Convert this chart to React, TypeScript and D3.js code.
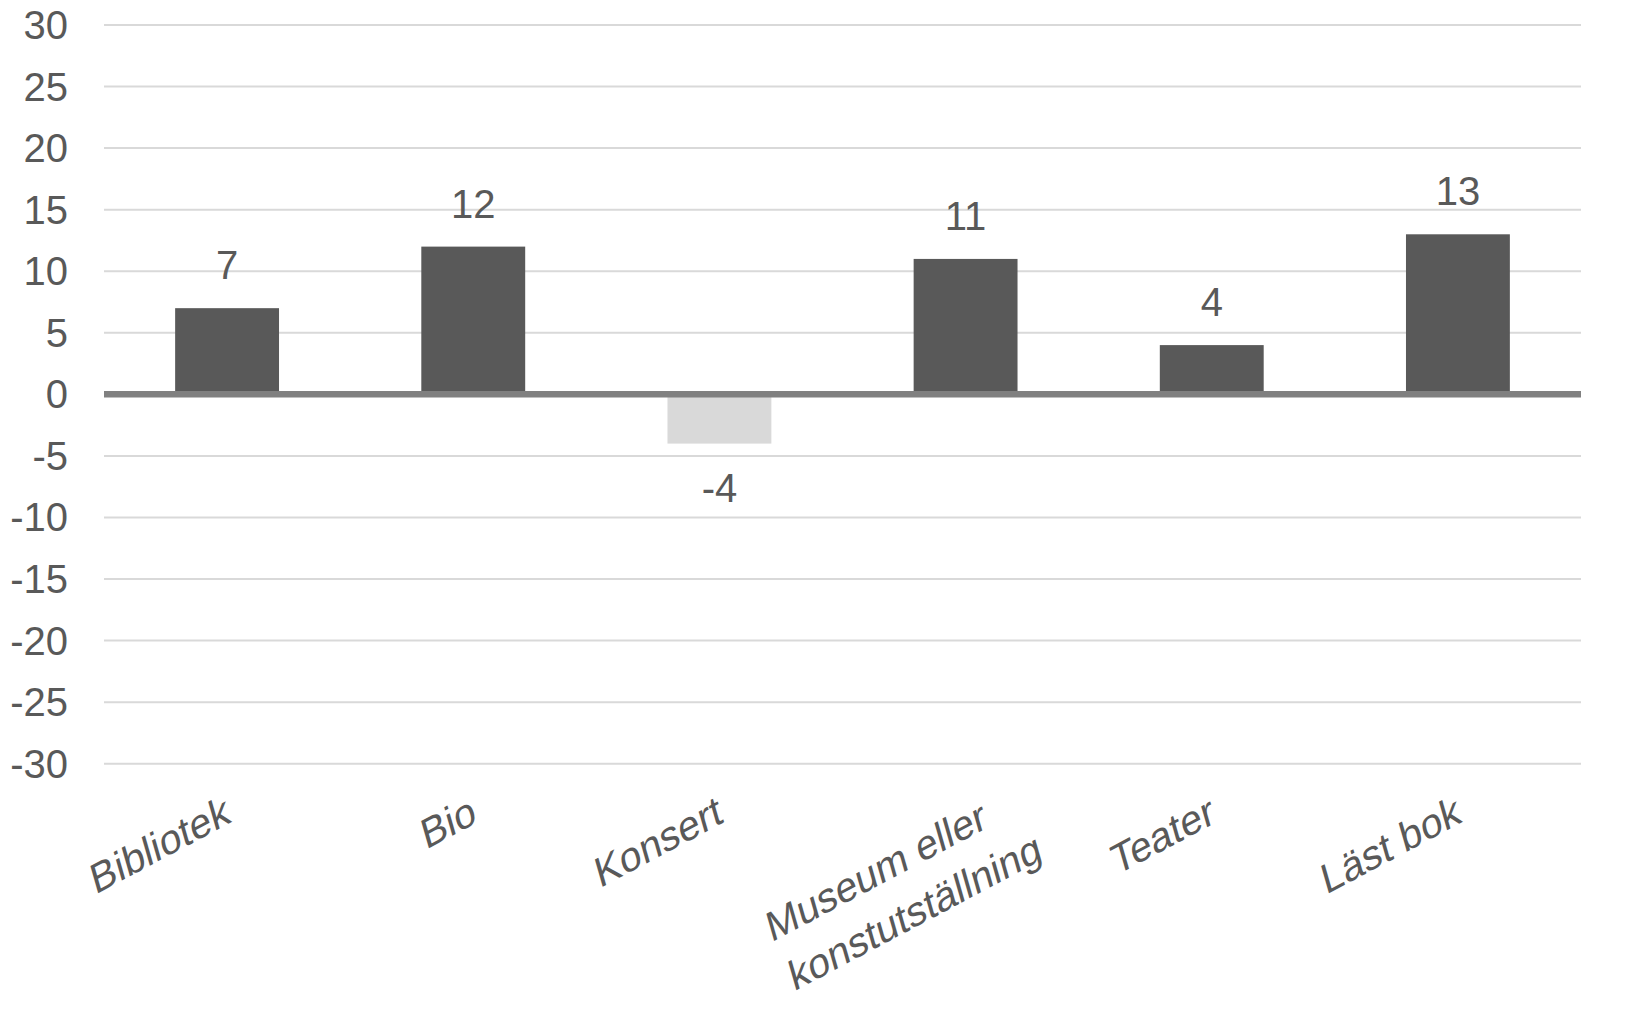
import React from 'react';
import * as d3 from 'd3';

// chart data
const categories = ['Bibliotek', 'Bio', 'Konsert', 'Museum eller\nkonstutställning', 'Teater', 'Läst bok'];
const values = [7, 12, -4, 11, 4, 13];
const yTicks = [-30, -25, -20, -15, -10, -5, 0, 5, 10, 15, 20, 25, 30];

const W = 1642;
const H = 1036;
const FONT = 'Arial, "Liberation Sans", sans-serif';
const TEXT = '#595959';

// label glyphs in the picture are rotated and slightly sheared
const labelMatrix = 'matrix(0.883,-0.469,0.276,0.961,0,0)';

export default function App() {
  const margin = { left: 104, right: W - 1581, top: 25, bottom: H - 763.7 };

  const x = d3.scaleBand<string>()
    .domain(categories)
    .range([margin.left, W - margin.right])
    .paddingInner(0.578)
    .paddingOuter(0.289);

  const y = d3.scaleLinear()
    .domain([-30, 30])
    .range([H - margin.bottom, margin.top]);

  return (
    <svg
      width={W}
      height={H}
      style={{ position: 'absolute', left: 0, top: 0, background: '#fff' }}
      fontFamily={FONT}
    >
      {/* grid */}
      {yTicks.filter(t => t !== 0).map(t => (
        <line key={t} x1={margin.left} x2={W - margin.right} y1={y(t)} y2={y(t)} stroke="#d9d9d9" strokeWidth={2} />
      ))}

      {/* y tick labels */}
      {yTicks.map(t => (
        <text key={t} x={68} y={y(t)} dy="0.35em" textAnchor="end" fontSize={40} fill={TEXT}>
          {t}
        </text>
      ))}

      {/* bars */}
      {categories.map((c, i) => {
        const v = values[i];
        const y0 = y(Math.max(0, v));
        const y1 = y(Math.min(0, v));
        return (
          <rect key={c} x={x(c)} y={y0} width={x.bandwidth()} height={y1 - y0} fill={v >= 0 ? '#595959' : '#d9d9d9'} />
        );
      })}

      {/* zero axis */}
      <line x1={margin.left} x2={W - margin.right} y1={y(0)} y2={y(0)} stroke="#808080" strokeWidth={6.5} />

      {/* value labels */}
      {categories.map((c, i) => {
        const v = values[i];
        const cx = (x(c) ?? 0) + x.bandwidth() / 2;
        return (
          <text key={c} x={cx} y={v >= 0 ? y(v) - 29 : y(v) + 58} textAnchor="middle" fontSize={40} fill={TEXT}>
            {v}
          </text>
        );
      })}

      {/* category labels */}
      {categories.map(c => {
        const cx = (x(c) ?? 0) + x.bandwidth() / 2;
        const lines = c.split('\n');
        const multi = lines.length > 1;
        return lines.map((line, j) => (
          <text
            key={c + j}
            transform={`translate(${cx + 5 + (multi ? 18 : 0) + j * 55},${822 + (multi ? 5 : 0) + j * 32}) ${labelMatrix}`}
            textAnchor="end"
            fontSize={41}
            fill={TEXT}
          >
            {line}
          </text>
        ));
      })}
    </svg>
  );
}
